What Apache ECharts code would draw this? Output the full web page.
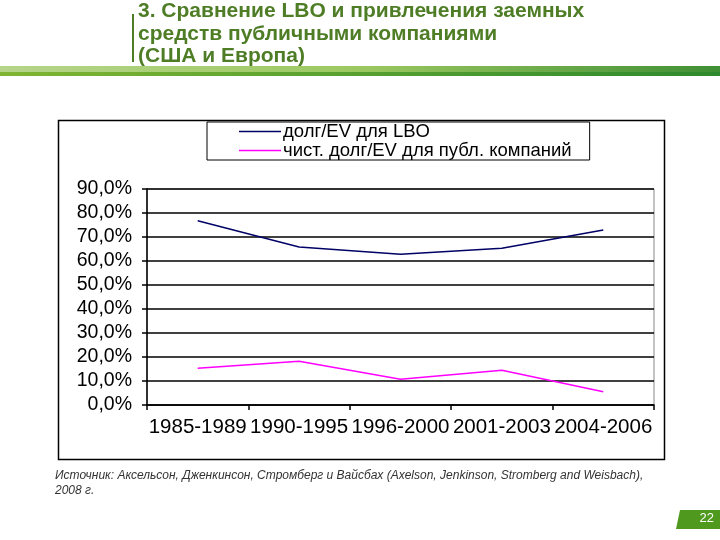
<!DOCTYPE html>
<html>
<head>
<meta charset="utf-8">
<script src="https://cdn.jsdelivr.net/npm/echarts@6/dist/echarts.min.js"></script>
<style>
  html, body { margin: 0; padding: 0; background: #fff; }
  #chart { width: 720px; height: 540px; }
</style>
</head>
<body>
<div id="chart"></div>
<script>
// периоды и значения
var periods = ['1985-1989', '1990-1995', '1996-2000', '2001-2003', '2004-2006']
var lboDebt = [76.8, 65.8, 62.8, 65.3, 72.9]
var publicNetDebt = [15.3, 18.2, 10.7, 14.5, 5.5]
var seriesNames = ['долг/EV для LBO', 'чист. долг/EV для публ. компаний']
var titleLines = [
  '3. Сравнение LBO и привлечения заемных',
  'средств публичными компаниями',
  '(США и Европа)'
]
var sourceLines = [
  'Источник: Аксельсон, Дженкинсон, Стромберг и Вайсбах (Axelson, Jenkinson, Stromberg and Weisbach),',
  '2008 г.'
]
var pageNumber = '22'

var chart = echarts.init(document.getElementById('chart'))
var sans = '"Liberation Sans", Arial, sans-serif'

var option = {
  backgroundColor: '#fff',
  animation: false,
  graphic: [
    // заголовок
    { type: 'rect', shape: { x: 132, y: 14, width: 2, height: 48 }, style: { fill: '#4e7d26' } },
    {
      type: 'text', left: 138, top: 0,
      style: {
        text: titleLines.join('\n'),
        font: 'bold 21px ' + sans,
        lineHeight: 22.5,
        fill: '#4e7d26'
      }
    },
    {
      type: 'rect', shape: { x: 0, y: 66, width: 720, height: 10 },
      style: {
        fill: new echarts.graphic.LinearGradient(0, 0, 1, 0, [
          { offset: 0, color: '#b5d58a' },
          { offset: 0.5, color: '#9cc860' },
          { offset: 1, color: '#3f8f35' }
        ])
      }
    },
    {
      type: 'rect', shape: { x: 0, y: 72, width: 720, height: 4 },
      style: {
        fill: new echarts.graphic.LinearGradient(0, 0, 1, 0, [
          { offset: 0, color: '#7fb531' },
          { offset: 1, color: '#2e8a2e' }
        ])
      }
    },
    // рамка диаграммы
    {
      type: 'rect', shape: { x: 58.5, y: 120.5, width: 606, height: 339 },
      style: { fill: 'none', stroke: '#000', lineWidth: 1.5 }, z: -1
    },
    // источник
    {
      type: 'text', left: 55, top: 468,
      style: {
        text: sourceLines.join('\n'),
        font: 'italic 12px ' + sans,
        lineHeight: 15,
        fill: '#333'
      }
    },
    // номер слайда
    {
      type: 'polygon',
      shape: { points: [[680, 510], [720, 510], [720, 529], [676, 529]] },
      style: { fill: '#4f9a1e' }
    },
    {
      type: 'text', right: 6, top: 512,
      style: { text: pageNumber, font: '13px ' + sans, fill: '#fff' }
    }
  ],
  legend: {
    orient: 'vertical',
    left: 207,
    top: 122,
    padding: [0, 18, 0, 32],
    itemGap: 0,
    itemWidth: 42,
    itemHeight: 17,
    borderColor: '#000',
    borderWidth: 1,
    icon: 'path://M0,9L42,9L42,10.5L0,10.5Z',
    textStyle: {
      fontFamily: sans,
      fontSize: 18.5,
      lineHeight: 17,
      color: '#000',
      padding: [0, 0, 0, -3]
    },
    data: seriesNames
  },
  grid: {
    left: 147,
    right: 66,
    top: 189,
    bottom: 135,
    show: true,
    borderColor: '#888',
    borderWidth: 1
  },
  xAxis: {
    type: 'category',
    data: periods,
    boundaryGap: true,
    axisLine: { lineStyle: { color: '#000', width: 1.5 } },
    axisTick: { show: true, length: 5, lineStyle: { color: '#000', width: 1.5 } },
    axisLabel: {
      interval: 0,
      color: '#000',
      fontFamily: sans,
      fontSize: 20.5,
      margin: 12
    }
  },
  yAxis: {
    type: 'value',
    min: 0,
    max: 90,
    interval: 10,
    axisLine: { show: true, lineStyle: { color: '#000', width: 1.5 } },
    axisTick: { show: true, length: 5, lineStyle: { color: '#000', width: 1.5 } },
    axisLabel: {
      color: '#000',
      fontFamily: sans,
      fontSize: 19.5,
      margin: 15,
      formatter: function (v) { return v.toFixed(1).replace('.', ',') + '%' }
    },
    splitLine: { lineStyle: { color: '#000', width: 1.5 } }
  },
  series: [
    {
      name: seriesNames[0],
      type: 'line',
      data: lboDebt,
      symbol: 'none',
      lineStyle: { color: '#000066', width: 1.5 },
      itemStyle: { color: '#000066' }
    },
    {
      name: seriesNames[1],
      type: 'line',
      data: publicNetDebt,
      symbol: 'none',
      lineStyle: { color: '#ff00ff', width: 1.5 },
      itemStyle: { color: '#ff00ff' }
    }
  ]
}
chart.setOption(option)
</script>
</body>
</html>
